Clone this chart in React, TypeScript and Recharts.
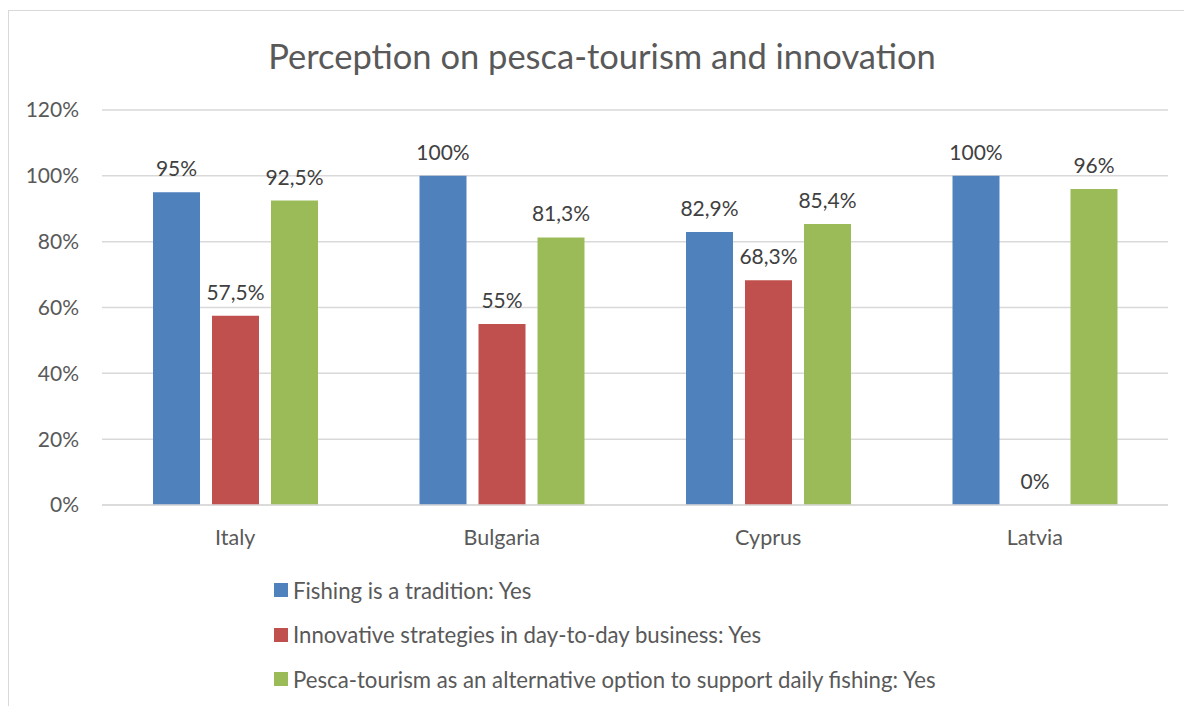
import React from "react";
import { BarChart, Bar, XAxis, YAxis, CartesianGrid, Legend, LabelList } from "recharts";

const countries = ["Italy", "Bulgaria", "Cyprus", "Latvia"];
const tradition = [95, 100, 82.9, 100];
const innovation = [57.5, 55, 68.3, 0];
const pescaTourism = [92.5, 81.3, 85.4, 96];
const yTicks = [0, 20, 40, 60, 80, 100, 120];

const seriesNames = [
  "Fishing is a tradition: Yes",
  "Innovative strategies in day-to-day business: Yes",
  "Pesca-tourism as an alternative option to support daily fishing: Yes",
];
const seriesColors = ["#4f81bd", "#c0504d", "#9bbb59"];
const seriesKeys = ["tradition", "innovation", "pesca"];

const data = countries.map((name, i) => ({
  name,
  tradition: tradition[i],
  innovation: innovation[i],
  pesca: pescaTourism[i],
}));

const FONT = "Lato, 'Open Sans', sans-serif";
const fmtLabel = (v: any) => String(v).replace(".", ",") + "%";

// label drawn by hand so that the 0% bar still gets its value
function TopLabel(props: any) {
  const { x, y, width, value } = props;
  if (value == null) return null;
  return (
    <text x={x + width / 2} y={y - 16} textAnchor="middle" fill="#404040" fontSize={21} fontFamily={FONT}>
      {fmtLabel(value)}
    </text>
  );
}

function LegendBox({ payload }: any) {
  return (
    <div>
      {(payload || []).map((p: any) => (
        <div key={p.value} style={{ display: "flex", alignItems: "center", height: 44.5, fontFamily: FONT, fontSize: 22.2, color: "#595959", whiteSpace: "nowrap" }}>
          <span style={{ display: "inline-block", width: 14, height: 14, background: p.color, marginRight: 5 }} />
          {p.value}
        </div>
      ))}
    </div>
  );
}

export default function App() {
  return (
    <div style={{ position: "absolute", left: 0, top: 0, width: 1184, height: 706, overflow: "hidden", background: "#fff" }}>
      <div style={{ position: "absolute", left: 8, top: 10, width: 1300, height: 800, border: "1.5px solid #d9d9d9" }} />
      <div style={{ position: "absolute", left: 0, top: 35, width: 1204, textAlign: "center", fontFamily: FONT, fontSize: 34.5, color: "#595959" }}>
        Perception on pesca-tourism and innovation
      </div>
      <div style={{ position: "absolute", left: 0, top: 0 }}>
        <BarChart width={1184} height={706} data={data} margin={{ top: 110, right: 16, bottom: 171, left: 0 }} barGap={12}>
          <CartesianGrid vertical={false} stroke="#d9d9d9" strokeWidth={1.5} />
          <XAxis dataKey="name" height={30} axisLine={{ stroke: "#d9d9d9", strokeWidth: 1.5 }} tickLine={false} tickSize={0} tickMargin={25}
            tick={{ fill: "#595959", fontSize: 21.5, fontFamily: FONT }} />
          <YAxis width={102} domain={[0, 120]} ticks={yTicks} axisLine={false} tickLine={false} tickSize={0} tickMargin={23}
            tickFormatter={(v) => v + "%"} tick={{ fill: "#595959", fontSize: 21, fontFamily: FONT }} />
          <Legend layout="vertical" align="center" verticalAlign="middle" content={<LegendBox />}
            wrapperStyle={{ left: 274, top: 568, width: 800 }} />
          {seriesKeys.map((k, i) => (
            <Bar key={k} dataKey={k} name={seriesNames[i]} fill={seriesColors[i]} barSize={47}
              minPointSize={(v: any) => (v === 0 ? 0.01 : 0)} isAnimationActive={false}>
              <LabelList dataKey={k} content={<TopLabel />} />
            </Bar>
          ))}
        </BarChart>
      </div>
    </div>
  );
}
